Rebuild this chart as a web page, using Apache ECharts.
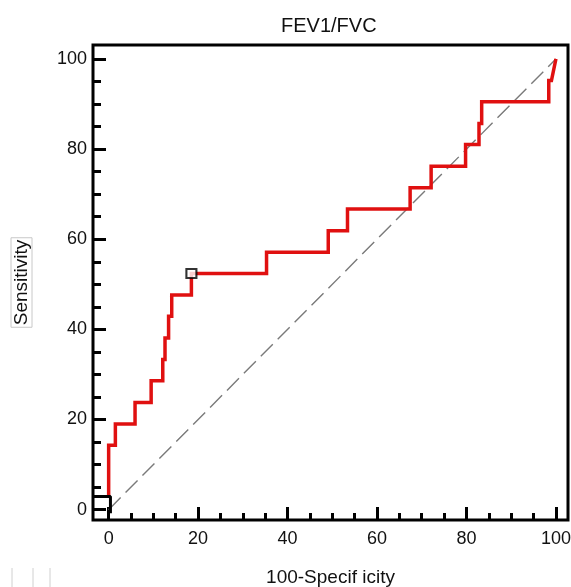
<!DOCTYPE html>
<html>
<head>
<meta charset="utf-8">
<title>FEV1/FVC ROC</title>
<script src="https://cdn.jsdelivr.net/npm/echarts@6/dist/echarts.min.js"></script>
<style>
  html, body { margin: 0; padding: 0; background: #fff; }
  #chart { width: 571px; height: 587px; }
</style>
</head>
<body>
<div id="chart"></div>
<script>
// ROC curve vertices: 100-specificity (x) and sensitivity (y)
const rocX = [0, 0, 1.5, 1.5, 5.9, 5.9, 9.5, 9.5, 12.1, 12.1, 12.6, 12.6, 13.4, 13.4, 14.1, 14.1,
  18.5, 18.5, 35.3, 35.3, 49.1, 49.1, 53.4, 53.4, 67.4, 67.4, 72.1, 72.1, 79.8, 79.8,
  82.8, 82.8, 83.4, 83.4, 98.4, 98.4, 99.0, 100];
const rocY = [2.9, 14.3, 14.3, 19.0, 19.0, 23.8, 23.8, 28.6, 28.6, 33.3, 33.3, 38.1, 38.1, 42.9, 42.9, 47.6,
  47.6, 52.4, 52.4, 57.1, 57.1, 61.9, 61.9, 66.7, 66.7, 71.4, 71.4, 76.2, 76.2, 81.0,
  81.0, 85.7, 85.7, 90.5, 90.5, 95.2, 95.2, 100];

// optimal criterion point
const optimalX = [18.5];
const optimalY = [52.4];

// chance diagonal
const diagX = [0, 100];
const diagY = [0, 100];

// small bracket at the curve origin
const bracketX = [-3.5, 0.4, 0.4];
const bracketY = [2.9, 2.9, -0.8];

// ticks
const majorTicks = [0, 20, 40, 60, 80, 100];
const minorTicks = [0, 5, 10, 15, 20, 25, 30, 35, 40, 45, 50, 55, 60, 65, 70, 75, 80, 85, 90, 95, 100];

const zip = (xs, ys) => xs.map((x, i) => [x, ys[i]]);

const X_MIN = -3.5, X_MAX = 102.7;
const Y_MIN = -2.3, Y_MAX = 103.1;
const FONT = 'Liberation Sans, Arial, sans-serif';

function xAxisBase(extra) {
  return Object.assign({
    type: 'value', min: X_MIN, max: X_MAX, position: 'bottom',
    axisLine: { show: false, onZero: false }, splitLine: { show: false }
  }, extra);
}
function yAxisBase(extra) {
  return Object.assign({
    type: 'value', min: Y_MIN, max: Y_MAX, position: 'left',
    axisLine: { show: false, onZero: false }, splitLine: { show: false }
  }, extra);
}

const chart = echarts.init(document.getElementById('chart'), null, { renderer: 'canvas' });
chart.setOption({
  animation: false,
  backgroundColor: '#fff',
  textStyle: { fontFamily: FONT },
  title: {
    text: 'FEV1/FVC', left: 276, top: 11,
    textStyle: { fontFamily: FONT, fontSize: 20, fontWeight: 'normal', color: '#111' }
  },
  grid: {
    left: 93, top: 45, right: 3, bottom: 67,
    outerBoundsMode: 'none', containLabel: false,
    show: true, borderColor: '#000', borderWidth: 3, backgroundColor: '#fff'
  },
  xAxis: [
    xAxisBase({
      name: '100-Specif icity', nameLocation: 'middle', nameGap: 48,
      nameTextStyle: { fontFamily: FONT, fontSize: 19, color: '#111' },
      axisTick: { inside: true, length: 13, lineStyle: { color: '#000', width: 3 }, customValues: majorTicks },
      axisLabel: { customValues: majorTicks, fontFamily: FONT, fontSize: 18, color: '#111', margin: 10 }
    }),
    xAxisBase({
      axisTick: { inside: true, length: 7, lineStyle: { color: '#000', width: 3 }, customValues: minorTicks },
      axisLabel: { show: false }
    })
  ],
  yAxis: [
    yAxisBase({
      name: 'Sensitivity', nameLocation: 'middle', nameGap: 61,
      nameTextStyle: {
        fontFamily: FONT, fontSize: 19, color: '#111',
        borderColor: '#c8c8c8', borderWidth: 1, padding: [1, 2, 1, 2]
      },
      axisTick: { inside: true, length: 13, lineStyle: { color: '#000', width: 3 }, customValues: majorTicks },
      axisLabel: { customValues: majorTicks, fontFamily: FONT, fontSize: 18, color: '#111', margin: 6 }
    }),
    yAxisBase({
      axisTick: { inside: true, length: 8, lineStyle: { color: '#000', width: 3 }, customValues: minorTicks },
      axisLabel: { show: false }
    })
  ],
  series: [
    {
      type: 'line', data: zip(diagX, diagY), symbol: 'none', silent: true,
      lineStyle: { color: '#7a7a7a', width: 1.4, type: [17, 7] }, z: 2
    },
    {
      type: 'line', data: zip(rocX, rocY), symbol: 'none', silent: true,
      lineStyle: { color: '#e01010', width: 3.5, join: 'miter' }, z: 3
    },
    {
      type: 'line', data: zip(bracketX, bracketY), symbol: 'none', silent: true,
      lineStyle: { color: '#000', width: 3 }, z: 4
    },
    {
      type: 'scatter', data: zip(optimalX, optimalY), symbol: 'rect', symbolSize: [10, 9],
      itemStyle: { color: '#fff', borderColor: '#000', borderWidth: 2 }, z: 5
    }
  ],
  graphic: [
    { type: 'line', shape: { x1: 12, y1: 568, x2: 12, y2: 587 }, style: { stroke: '#d0d0d0', lineWidth: 1 } },
    { type: 'line', shape: { x1: 33, y1: 568, x2: 33, y2: 587 }, style: { stroke: '#d0d0d0', lineWidth: 1 } },
    { type: 'line', shape: { x1: 50, y1: 568, x2: 50, y2: 587 }, style: { stroke: '#d0d0d0', lineWidth: 1 } }
  ]
});
</script>
</body>
</html>
